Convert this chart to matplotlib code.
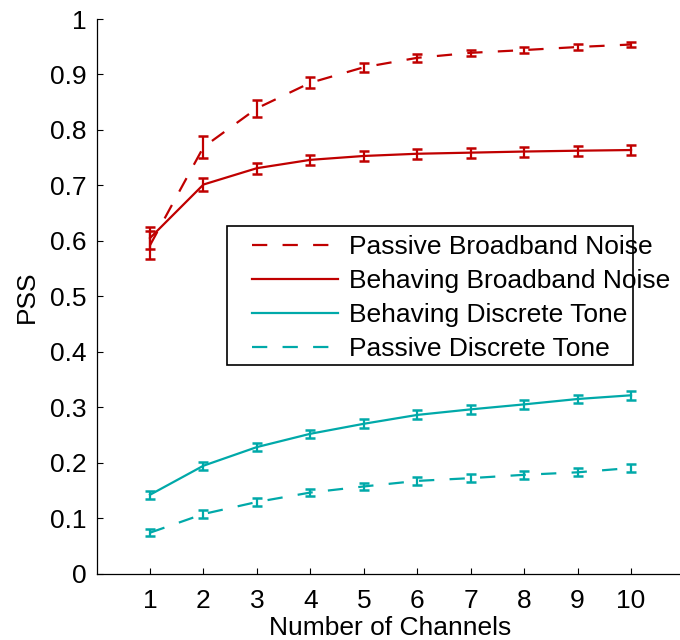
import matplotlib
matplotlib.use("Agg")
import matplotlib.pyplot as plt
from matplotlib.patches import Rectangle
import numpy as np

plt.rcParams["font.family"] = ["Liberation Sans", "DejaVu Sans"]
plt.rcParams["lines.scale_dashes"] = False

channels = np.arange(1, 11)

passive_bn = [0.592, 0.769, 0.839, 0.885, 0.913, 0.930, 0.939, 0.944, 0.9495, 0.954]
passive_bn_err = [0.025, 0.02, 0.015, 0.01, 0.008, 0.007, 0.006, 0.005, 0.005, 0.005]

behaving_bn = [0.605, 0.7015, 0.731, 0.746, 0.753, 0.757, 0.759, 0.761, 0.7625, 0.7637]
behaving_bn_err = [0.02, 0.012, 0.01, 0.009, 0.009, 0.009, 0.009, 0.009, 0.009, 0.009]

behaving_dt = [0.142, 0.1944, 0.228, 0.252, 0.270, 0.286, 0.296, 0.305, 0.3147, 0.3214]
behaving_dt_err = [0.007, 0.007, 0.007, 0.007, 0.008, 0.008, 0.008, 0.008, 0.008, 0.008]

passive_dt = [0.0736, 0.1073, 0.129, 0.146, 0.157, 0.167, 0.172, 0.178, 0.1825, 0.1903]
passive_dt_err = [0.006, 0.007, 0.007, 0.007, 0.007, 0.007, 0.007, 0.007, 0.007, 0.007]

y_ticks = [0, 0.1, 0.2, 0.3, 0.4, 0.5, 0.6, 0.7, 0.8, 0.9, 1]
y_tick_labels = ["0", "0.1", "0.2", "0.3", "0.4", "0.5", "0.6", "0.7", "0.8", "0.9", "1"]

red = "#C00000"
teal = "#00A9A9"
dashed = (0, (11, 11))
fs = 19

fig = plt.figure(figsize=(6.8, 6.4), dpi=100)
ax = fig.add_axes([0.142, 0.1039, 0.8646, 0.8664])

series = [
    (passive_bn, passive_bn_err, red, dashed, "Passive Broadband Noise"),
    (behaving_bn, behaving_bn_err, red, "-", "Behaving Broadband Noise"),
    (behaving_dt, behaving_dt_err, teal, "-", "Behaving Discrete Tone"),
    (passive_dt, passive_dt_err, teal, dashed, "Passive Discrete Tone"),
]
handles = []
for vals, err, color, ls, label in series:
    cont = ax.errorbar(channels, vals, yerr=err, color=color, lw=1.6,
                       elinewidth=1.6, capsize=3.3, capthick=1.8,
                       label=label)
    cont[0].set_linestyle(ls)
    handles.append(cont[0])

ax.set_xlim(0, 11)
ax.set_ylim(0, 1)
ax.set_xticks(channels)
ax.set_yticks(y_ticks)
ax.set_yticklabels(y_tick_labels)
ax.tick_params(direction="in", length=4.5, width=0.8, labelsize=fs)
ax.tick_params(axis="y", pad=7)
ax.tick_params(axis="x", pad=11)
for side in ("top", "right"):
    ax.spines[side].set_visible(False)
for side in ("left", "bottom"):
    ax.spines[side].set_linewidth(0.9)

ax.set_xlabel("Number of Channels", fontsize=fs, labelpad=2.5)
ax.set_ylabel("PSS", fontsize=fs, labelpad=8)

# legend entries without their own frame; the box is drawn separately so the
# longest label can run past its right edge
leg = ax.legend(handles, [s[4] for s in series], loc="upper left",
                bbox_to_anchor=(252 / 680, 1 - 235 / 640),
                bbox_transform=fig.transFigure, borderaxespad=0, borderpad=0,
                fontsize=fs, frameon=False,
                handlelength=3.26, handletextpad=0.42, labelspacing=0.38)
fig.add_artist(Rectangle((227 / 680, 1 - 365 / 640), 406 / 680, 139 / 640,
                         transform=fig.transFigure, fill=False,
                         edgecolor="black", lw=1.2, zorder=5))

fig.savefig("out.png", dpi=100)
